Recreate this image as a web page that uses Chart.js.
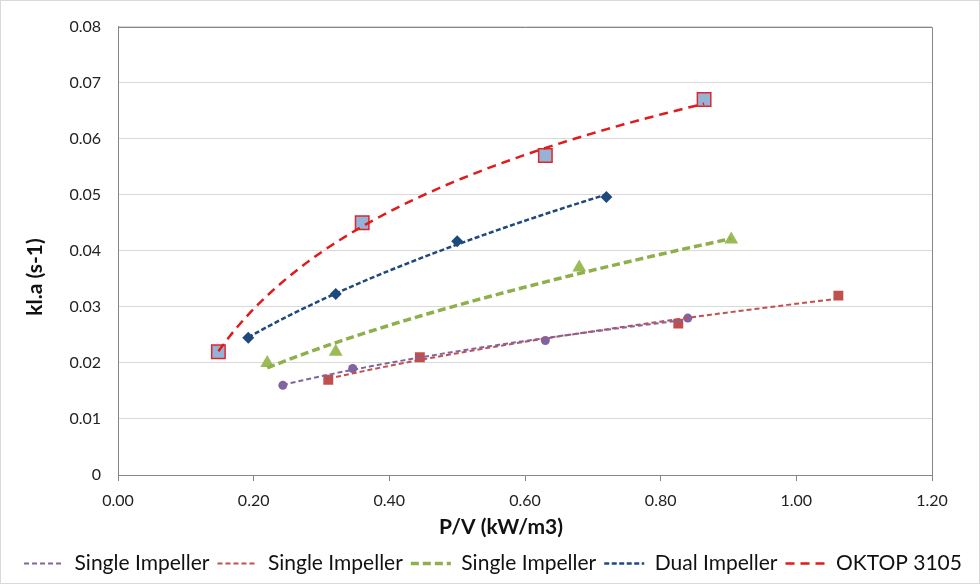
<!DOCTYPE html>
<html>
<head>
<meta charset="utf-8">
<script src="https://cdn.jsdelivr.net/npm/chart.js@4.4.1/dist/chart.umd.min.js"></script>
<style>
  html, body { margin: 0; padding: 0; background: #fff; }
</style>
</head>
<body>
<canvas id="klaChart" width="980" height="584"></canvas>
<script>
// kLa (s-1) measured against P/V (kW/m3)
let pvSingleA  = [0.243, 0.346, 0.630, 0.840];
let klaSingleA = [0.016, 0.019, 0.024, 0.028];

let pvSingleB  = [0.310, 0.445, 0.826, 1.062];
let klaSingleB = [0.017, 0.021, 0.027, 0.032];

let pvSingleC  = [0.220, 0.321, 0.680, 0.904];
let klaSingleC = [0.020, 0.022, 0.037, 0.042];

let pvDual  = [0.192, 0.321, 0.500, 0.720];
let klaDual = [0.0245, 0.0323, 0.0417, 0.0496];

let pvOktop  = [0.148, 0.360, 0.630, 0.864];
let klaOktop = [0.022, 0.045, 0.057, 0.067];

let xTicks = [0, 0.2, 0.4, 0.6, 0.8, 1.0, 1.2];
let yTicks = [0, 0.01, 0.02, 0.03, 0.04, 0.05, 0.06, 0.07, 0.08];

let legendNames = ['Single Impeller', 'Single Impeller', 'Single Impeller', 'Dual Impeller', 'OKTOP 3105'];
let xTitle = 'P/V (kW/m3)';
let yTitle = 'kl.a (s-1)';

function toPoints(xs, ys) {
    return xs.map(function (x, i) { return {x: x, y: ys[i]}; });
}

// least squares on (u(x), v(y)), same as the excel trendlines
function regress(us, vs) {
    let n = us.length;
    let mu = us.reduce((a, b) => a + b, 0) / n;
    let mv = vs.reduce((a, b) => a + b, 0) / n;
    let sxy = 0, sxx = 0;
    for (let i = 0; i < n; i++) {
        sxy += (us[i] - mu) * (vs[i] - mv);
        sxx += (us[i] - mu) * (us[i] - mu);
    }
    let slope = sxy / sxx;
    return {slope: slope, icpt: mv - slope * mu};
}

function powerFit(xs, ys) {
    let r = regress(xs.map(Math.log), ys.map(Math.log));
    return function (x) { return Math.exp(r.icpt) * Math.pow(x, r.slope); };
}

function logFit(xs, ys) {
    let r = regress(xs.map(Math.log), ys);
    return function (x) { return r.slope * Math.log(x) + r.icpt; };
}

function trendLine(xs, fn) {
    let lo = Math.min.apply(null, xs), hi = Math.max.apply(null, xs);
    let pts = [];
    for (let i = 0; i <= 60; i++) {
        let x = lo + (hi - lo) * i / 60;
        pts.push({x: x, y: fn(x)});
    }
    return pts;
}

function trendSet(label, pts, color, width, dash) {
    return {
        label: label,
        data: pts,
        showLine: true,
        borderColor: color,
        backgroundColor: color,
        borderWidth: width,
        borderDash: dash,
        pointRadius: 0,
        pointHoverRadius: 0,
        tension: 0
    };
}

function markerSet(pts, style, radius, fill, border, bw) {
    return {
        label: '',
        data: pts,
        showLine: false,
        pointStyle: style,
        pointRadius: radius,
        pointHoverRadius: radius,
        backgroundColor: fill,
        borderColor: border,
        borderWidth: bw
    };
}

// trendlines first so they are painted over the markers
let datasets = [
    trendSet(legendNames[0], trendLine(pvSingleA, powerFit(pvSingleA, klaSingleA)), '#8064A2', 2, [5, 3]),
    trendSet(legendNames[1], trendLine(pvSingleB, powerFit(pvSingleB, klaSingleB)), '#C0504D', 2, [5, 3]),
    trendSet(legendNames[2], trendLine(pvSingleC, powerFit(pvSingleC, klaSingleC)), '#8EB04C', 3.5, [8, 4]),
    trendSet(legendNames[3], trendLine(pvDual, powerFit(pvDual, klaDual)), '#1F497D', 2.5, [5, 2.5]),
    trendSet(legendNames[4], trendLine(pvOktop, logFit(pvOktop, klaOktop)), '#E01B1B', 2.5, [9, 6]),

    markerSet(toPoints(pvSingleA, klaSingleA), 'circle', 4.5, '#8064A2', '#8064A2', 0),
    markerSet(toPoints(pvSingleB, klaSingleB), 'rect', 7, '#C0504D', '#C0504D', 0),
    markerSet(toPoints(pvSingleC, klaSingleC), 'triangle', 8, '#9BBB59', '#9BBB59', 0),
    markerSet(toPoints(pvDual, klaDual), 'rectRot', 6, '#1F497D', '#1F497D', 0),
    markerSet(toPoints(pvOktop, klaOktop), 'rect', 9.5, '#95B3D7', '#E0262D', 1.5)
];

let fontFam = 'Lato, "Liberation Sans", sans-serif';

let frame = {
    id: 'frame',
    beforeDraw: function (chart) {
        let c = chart.ctx;
        c.save();
        c.fillStyle = '#fff';
        c.fillRect(0, 0, chart.width, chart.height);
        c.strokeStyle = '#D9D9D9';
        c.lineWidth = 1;
        c.strokeRect(0.5, 0.5, chart.width - 1, chart.height - 1);
        c.restore();
    },
    beforeDatasetsDraw: function (chart) {
        let a = chart.chartArea;
        let c = chart.ctx;
        c.save();
        c.strokeStyle = '#868686';
        c.lineWidth = 1;
        c.beginPath();
        c.moveTo(a.left, Math.round(a.top) + 0.5);
        c.lineTo(Math.round(a.right) + 0.5, Math.round(a.top) + 0.5);
        c.lineTo(Math.round(a.right) + 0.5, a.bottom);
        c.stroke();
        c.restore();
    },
    // axis titles sit off-centre in the original, so they are placed by hand
    afterDraw: function (chart) {
        let c = chart.ctx;
        c.save();
        c.fillStyle = '#111';
        c.font = 'bold 21px ' + fontFam;
        c.textAlign = 'center';
        c.textBaseline = 'middle';
        c.fillText(xTitle, 501, 527);
        c.translate(35, 277);
        c.rotate(-Math.PI / 2);
        c.fillText(yTitle, 0, 0);
        c.restore();
    }
};

new Chart(document.getElementById('klaChart').getContext('2d'), {
    type: 'scatter',
    data: {datasets: datasets},
    plugins: [frame],
    options: {
        responsive: false,
        animation: false,
        devicePixelRatio: 1,
        layout: {padding: {left: 10, right: 4, top: 22, bottom: 0}},
        plugins: {
            tooltip: {enabled: false},
            legend: {
                position: 'bottom',
                labels: {
                    usePointStyle: true,
                    pointStyleWidth: 40,
                    boxHeight: 21,
                    padding: 8,
                    color: '#111',
                    font: {family: fontFam, size: 21},
                    generateLabels: function (chart) {
                        return chart.data.datasets.slice(0, 5).map(function (ds, i) {
                            return {
                                text: ds.label,
                                datasetIndex: i,
                                pointStyle: 'line',
                                strokeStyle: ds.borderColor,
                                fillStyle: ds.borderColor,
                                lineWidth: ds.borderWidth,
                                lineDash: ds.borderDash,
                                fontColor: '#111'
                            };
                        });
                    }
                }
            }
        },
        scales: {
            x: {
                type: 'linear',
                min: xTicks[0],
                max: xTicks[xTicks.length - 1],
                afterBuildTicks: function (s) { s.ticks = xTicks.map(v => ({value: v})); },
                afterFit: function (s) { s.height = 70; },
                grid: {drawOnChartArea: false, drawTicks: true, tickLength: 6, color: '#868686'},
                border: {color: '#868686'},
                ticks: {
                    padding: 10,
                    color: '#222',
                    font: {family: fontFam, size: 16},
                    callback: function (v) { return Number(v).toFixed(2); }
                }
            },
            y: {
                type: 'linear',
                min: yTicks[0],
                max: yTicks[yTicks.length - 1],
                afterBuildTicks: function (s) { s.ticks = yTicks.map(v => ({value: v})); },
                afterFit: function (s) { s.width = 108; },
                grid: {drawTicks: false, color: '#D9D9D9'},
                border: {color: '#868686'},
                ticks: {
                    padding: 17,
                    color: '#222',
                    font: {family: fontFam, size: 16},
                    callback: function (v) { return v === 0 ? '0' : Number(v).toFixed(2); }
                }
            },
            // empty right-hand axis, only keeps the gap after the plot area
            yGap: {
                type: 'linear',
                position: 'right',
                min: 0,
                max: 1,
                afterFit: function (s) { s.width = 44; },
                grid: {drawOnChartArea: false, drawTicks: false},
                border: {display: false},
                ticks: {display: false}
            }
        }
    }
});
</script>
</body>
</html>
